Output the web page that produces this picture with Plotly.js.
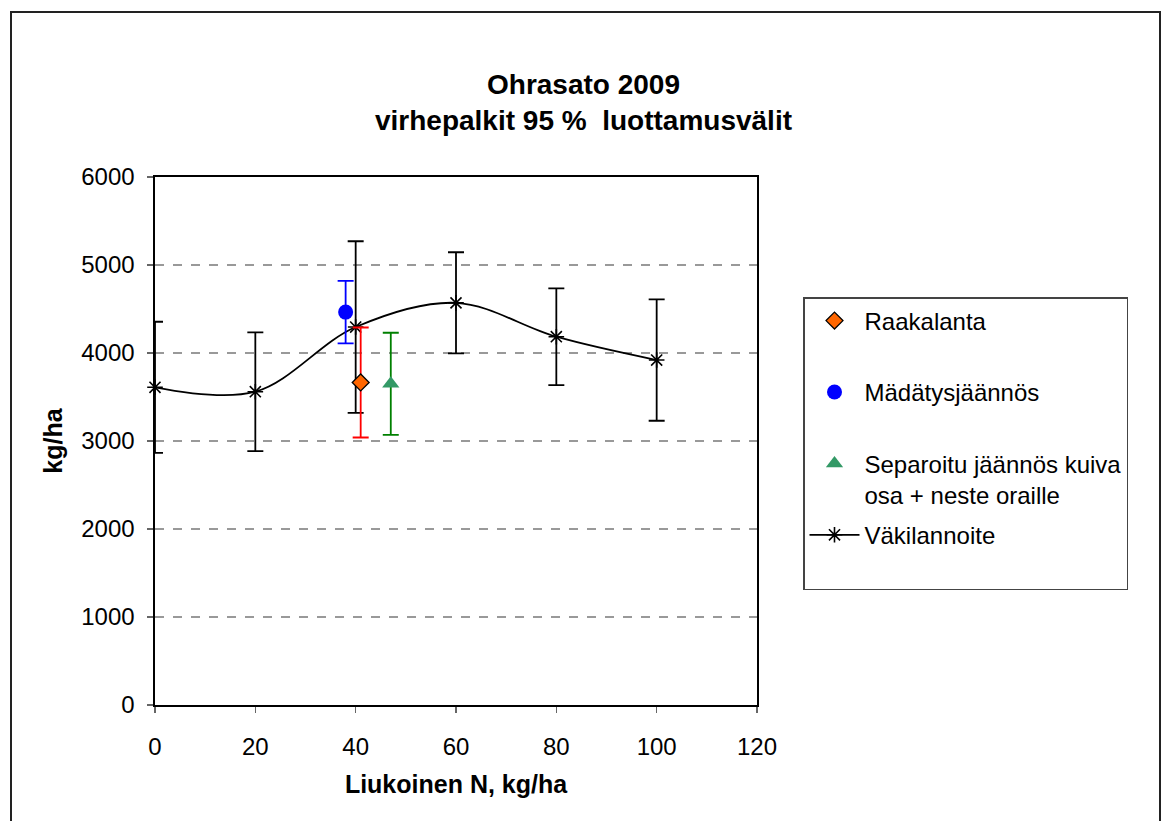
<!DOCTYPE html>
<html>
<head>
<meta charset="utf-8">
<script src="https://cdn.plot.ly/plotly-3.0.1.min.js"></script>
<style>
html,body{margin:0;padding:0;background:#fff;}
#wrap{position:relative;width:1167px;height:821px;overflow:hidden;}
#chart{width:1167px;height:821px;}
#frame{position:absolute;left:10px;top:11px;width:1151px;height:840px;border:2px solid #222;pointer-events:none;box-sizing:border-box;}
</style>
</head>
<body>
<div id="wrap"><div id="chart"></div><div id="frame"></div></div>
<script>
// Väkilannoite (mineral fertiliser) series
const vakiX = [0, 20, 40, 60, 80, 100];
const vakiY = [3610, 3560, 4295, 4570, 4185, 3920];
const vakiErr = [745, 675, 975, 575, 550, 690];

// Raakalanta
const raakaX = [41];
const raakaY = [3665];
const raakaErr = [625];

// Mädätysjäännös
const madaX = [38];
const madaY = [4465];
const madaErr = [355];

// Separoitu jäännös
const sepX = [47];
const sepY = [3650];
const sepErr = [580];

const FONT = 'Liberation Sans, Arial, sans-serif';

const traces = [
  {
    x: vakiX, y: vakiY, name: 'Väkilannoite<br>&nbsp;', type: 'scatter', mode: 'lines+markers',
    line: {color: '#000', width: 1.8, shape: 'spline', smoothing: 1},
    marker: {symbol: 'asterisk-open', size: 13, color: '#000', line: {color: '#000', width: 1.6}},
    error_y: {type: 'data', array: vakiErr, visible: true, color: '#000', thickness: 1.8, width: 8},
    cliponaxis: false, legendrank: 4, legendgroup: 'd'
  },
  {
    x: raakaX, y: raakaY, name: 'Raakalanta<br>&nbsp;', type: 'scatter', mode: 'markers',
    marker: {symbol: 'diamond', size: 13, color: '#FF6600', line: {color: '#000', width: 1.3}},
    error_y: {type: 'data', array: raakaErr, visible: true, color: '#FF0000', thickness: 1.8, width: 8},
    cliponaxis: false, legendrank: 1, legendgroup: 'a'
  },
  {
    x: madaX, y: madaY, name: 'Mädätysjäännös<br>&nbsp;', type: 'scatter', mode: 'markers',
    marker: {symbol: 'circle', size: 15, color: '#0000FF', line: {color: '#0000FF', width: 0}},
    error_y: {type: 'data', array: madaErr, visible: true, color: '#0000FF', thickness: 1.8, width: 8},
    cliponaxis: false, legendrank: 2, legendgroup: 'b'
  },
  {
    x: sepX, y: sepY, name: 'Separoitu jäännös kuiva<br>osa + neste oraille', type: 'scatter', mode: 'markers',
    marker: {symbol: 'triangle-up', size: 15, color: '#339966', line: {color: '#339966', width: 0}},
    error_y: {type: 'data', array: sepErr, visible: true, color: '#008000', thickness: 1.8, width: 8},
    cliponaxis: false, legendrank: 3, legendgroup: 'c'
  }
];

const layout = {
  width: 1167, height: 821,
  margin: {l: 155, r: 410, t: 177, b: 116},
  paper_bgcolor: '#fff', plot_bgcolor: '#fff',
  font: {family: FONT, color: '#000', size: 24},
  title: {
    text: '<b>Ohrasato 2009<br>virhepalkit 95 %  luottamusvälit</b>',
    font: {family: FONT, size: 28, color: '#000'},
    x: 0.5, xref: 'container', xanchor: 'center',
    y: 1 - 94/821, yref: 'container', yanchor: 'middle'
  },
  xaxis: {
    range: [0, 120], dtick: 20, tick0: 0,
    showline: true, linecolor: '#000', linewidth: 1.6, mirror: true,
    ticks: 'outside', ticklen: 6, tickcolor: '#666', tickwidth: 1.3,
    ticklabelstandoff: 14,
    showgrid: false, zeroline: false,
    tickfont: {family: FONT, size: 24, color: '#000'},
    title: {text: '<b>Liukoinen N, kg/ha</b>', font: {family: FONT, size: 25, color: '#000'}, standoff: 16}
  },
  yaxis: {
    range: [0, 6000], dtick: 1000, tick0: 0,
    showline: true, linecolor: '#000', linewidth: 1.6, mirror: true,
    ticks: 'outside', ticklen: 6, tickcolor: '#666', tickwidth: 1.3,
    ticklabelstandoff: 8,
    showgrid: true, gridcolor: '#999', gridwidth: 1.3, griddash: 'dash',
    zeroline: false,
    tickfont: {family: FONT, size: 24, color: '#000'},
    title: {text: '<b>kg/ha</b>', font: {family: FONT, size: 25, color: '#000'}, standoff: 11}
  },
  legend: {
    x: (803 - 155) / 602, y: (705 - 297) / 528, xanchor: 'left', yanchor: 'top',
    xref: 'paper', yref: 'paper',
    bordercolor: '#444', borderwidth: 1.5, bgcolor: '#fff',
    font: {family: FONT, size: 24, color: '#000'},
    tracegroupgap: 6, itemwidth: 50, valign: 'top'
  },
  showlegend: true
};

Plotly.newPlot('chart', traces, layout, {displayModeBar: false, staticPlot: true});
</script>
</body>
</html>
